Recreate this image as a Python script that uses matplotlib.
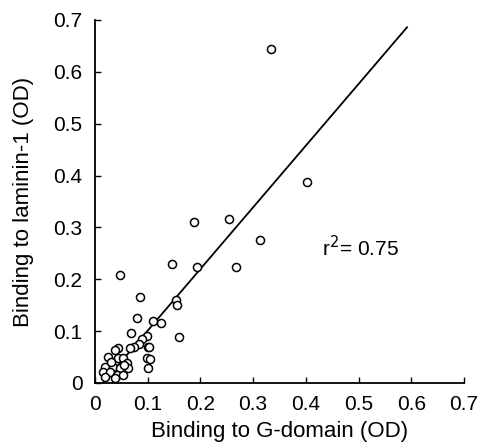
import numpy as np
import matplotlib
matplotlib.use("Agg")
import matplotlib.pyplot as plt

plt.rcParams["font.family"] = ["Liberation Sans", "DejaVu Sans"]

# binding values (OD)
g_domain = [0.334, 0.402, 0.313, 0.188, 0.254, 0.146, 0.193, 0.268, 0.047, 0.085,
            0.154, 0.156, 0.159, 0.080, 0.110, 0.125, 0.068, 0.099, 0.089, 0.083,
            0.100, 0.103, 0.074, 0.066, 0.044, 0.038, 0.099, 0.104, 0.100, 0.025,
            0.044, 0.053, 0.061, 0.019, 0.034, 0.047, 0.063, 0.015, 0.028, 0.042,
            0.053, 0.019, 0.038, 0.055, 0.030]
laminin = [0.645, 0.387, 0.276, 0.310, 0.316, 0.229, 0.224, 0.224, 0.208, 0.166,
           0.160, 0.150, 0.089, 0.125, 0.119, 0.116, 0.096, 0.091, 0.085, 0.075,
           0.069, 0.069, 0.069, 0.067, 0.067, 0.064, 0.048, 0.046, 0.029, 0.050,
           0.048, 0.048, 0.039, 0.031, 0.031, 0.029, 0.029, 0.021, 0.021, 0.015,
           0.015, 0.012, 0.010, 0.035, 0.040]

# regression line end points
fit_x = [0.015, 0.592]
fit_y = [0.0, 0.686]

ticks = [0, 0.1, 0.2, 0.3, 0.4, 0.5, 0.6, 0.7]
tick_labels = ["0", "0.1", "0.2", "0.3", "0.4", "0.5", "0.6", "0.7"]

fig = plt.figure(figsize=(4.81, 4.42), dpi=100)
ax = fig.add_axes([0.1975, 0.1335, 0.7672, 0.8213])

ax.plot(g_domain, laminin, linestyle="none", marker="o", markersize=5.8,
        markerfacecolor="white", markeredgecolor="black", markeredgewidth=1.1,
        zorder=3)
ax.plot(fit_x, fit_y, color="black", linewidth=1.3, zorder=2)

ax.set_xlim(0, 0.7)
ax.set_ylim(0, 0.7)
ax.set_xticks(ticks)
ax.set_xticklabels(tick_labels)
ax.set_yticks(ticks)
ax.set_yticklabels(tick_labels)

ax.spines["top"].set_visible(False)
ax.spines["right"].set_visible(False)
ax.spines["left"].set_linewidth(1.3)
ax.spines["bottom"].set_linewidth(1.3)
ax.tick_params(direction="in", length=4, width=1.0, labelsize=15, pad=9)

ax.set_xlabel("Binding to G-domain (OD)", fontsize=16, labelpad=5)
ax.set_ylabel("Binding to laminin-1 (OD)", fontsize=16, labelpad=14)

ax.text(0.431, 0.262, "r$^2$= 0.75", fontsize=15, va="center", ha="left")

fig.savefig("out.png", dpi=100)
